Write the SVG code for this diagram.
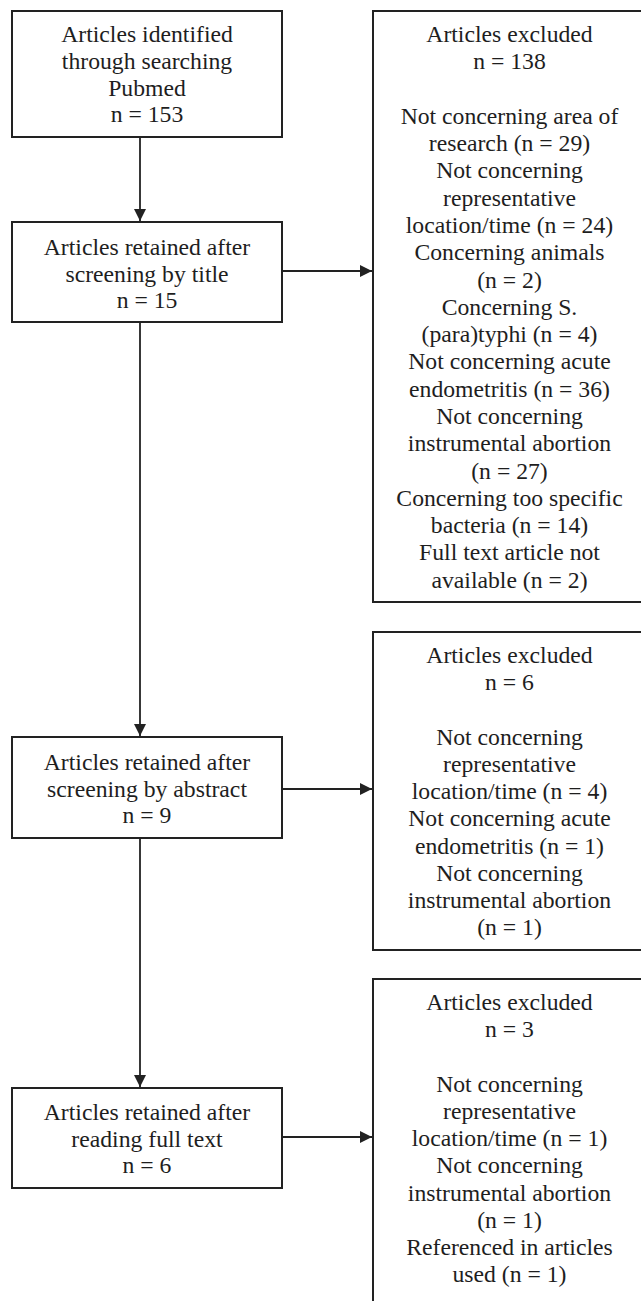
<svg xmlns="http://www.w3.org/2000/svg" width="641" height="1301" viewBox="0 0 641 1301">
<style>
.fcbox{fill:#fff;stroke:#222;stroke-width:2}
.fclbl{font-family:'Liberation Serif',serif !important;font-size:23.7px;fill:#1e1e1e;text-anchor:middle}
.fcarr{stroke:#222;stroke-width:1.8;fill:none;marker-end:url(#ah)}
</style>
<defs>
<marker id="ah" markerUnits="userSpaceOnUse" markerWidth="12" markerHeight="12" refX="12" refY="6" orient="auto">
<path d="M0,0 L12,6 L0,12 z" fill="#222"/>
</marker>
</defs>
<rect width="641" height="1301" fill="#fff"/>
<g id="connectors">
<line class="fcarr" x1="140" y1="137" x2="140" y2="221"/>
<line class="fcarr" x1="140" y1="322" x2="140" y2="736"/>
<line class="fcarr" x1="140" y1="838" x2="140" y2="1087"/>
<line class="fcarr" x1="282" y1="271" x2="372" y2="271"/>
<line class="fcarr" x1="282" y1="789" x2="372" y2="789"/>
<line class="fcarr" x1="282" y1="1137" x2="372" y2="1137"/>
</g>
<g id="n1">
<rect class="fcbox" x="12" y="11" width="270" height="126"/>
<text class="fclbl" font-family="Liberation Serif" x="147" y="42">Articles identified</text>
<text class="fclbl" font-family="Liberation Serif" x="147" y="69">through searching</text>
<text class="fclbl" font-family="Liberation Serif" x="147" y="96">Pubmed</text>
<text class="fclbl" font-family="Liberation Serif" x="147" y="122">n = 153</text>
</g>
<g id="n2">
<rect class="fcbox" x="12" y="222" width="270" height="100"/>
<text class="fclbl" font-family="Liberation Serif" x="147" y="255">Articles retained after</text>
<text class="fclbl" font-family="Liberation Serif" x="147" y="282">screening by title</text>
<text class="fclbl" font-family="Liberation Serif" x="147" y="308">n = 15</text>
</g>
<g id="n3">
<rect class="fcbox" x="12" y="737" width="270" height="101"/>
<text class="fclbl" font-family="Liberation Serif" x="147" y="770">Articles retained after</text>
<text class="fclbl" font-family="Liberation Serif" x="147" y="797">screening by abstract</text>
<text class="fclbl" font-family="Liberation Serif" x="147" y="823">n = 9</text>
</g>
<g id="n4">
<rect class="fcbox" x="12" y="1088" width="270" height="100"/>
<text class="fclbl" font-family="Liberation Serif" x="147" y="1120">Articles retained after</text>
<text class="fclbl" font-family="Liberation Serif" x="147" y="1147">reading full text</text>
<text class="fclbl" font-family="Liberation Serif" x="147" y="1173">n = 6</text>
</g>
<g id="x1">
<rect class="fcbox" x="373" y="11" width="280" height="591"/>
<text class="fclbl" font-family="Liberation Serif" x="509.5" y="42">Articles excluded</text>
<text class="fclbl" font-family="Liberation Serif" x="509.5" y="69">n = 138</text>
<text class="fclbl" font-family="Liberation Serif" x="509.5" y="124">Not concerning area of</text>
<text class="fclbl" font-family="Liberation Serif" x="509.5" y="151">research (n = 29)</text>
<text class="fclbl" font-family="Liberation Serif" x="509.5" y="178">Not concerning</text>
<text class="fclbl" font-family="Liberation Serif" x="509.5" y="206">representative</text>
<text class="fclbl" font-family="Liberation Serif" x="509.5" y="233">location/time (n = 24)</text>
<text class="fclbl" font-family="Liberation Serif" x="509.5" y="260">Concerning animals</text>
<text class="fclbl" font-family="Liberation Serif" x="509.5" y="288">(n = 2)</text>
<text class="fclbl" font-family="Liberation Serif" x="509.5" y="315">Concerning S.</text>
<text class="fclbl" font-family="Liberation Serif" x="509.5" y="342">(para)typhi (n = 4)</text>
<text class="fclbl" font-family="Liberation Serif" x="509.5" y="369">Not concerning acute</text>
<text class="fclbl" font-family="Liberation Serif" x="509.5" y="397">endometritis (n = 36)</text>
<text class="fclbl" font-family="Liberation Serif" x="509.5" y="424">Not concerning</text>
<text class="fclbl" font-family="Liberation Serif" x="509.5" y="451">instrumental abortion</text>
<text class="fclbl" font-family="Liberation Serif" x="509.5" y="479">(n = 27)</text>
<text class="fclbl" font-family="Liberation Serif" x="509.5" y="506">Concerning too specific</text>
<text class="fclbl" font-family="Liberation Serif" x="509.5" y="533">bacteria (n = 14)</text>
<text class="fclbl" font-family="Liberation Serif" x="509.5" y="560">Full text article not</text>
<text class="fclbl" font-family="Liberation Serif" x="509.5" y="588">available (n = 2)</text>
</g>
<g id="x2">
<rect class="fcbox" x="373" y="632" width="280" height="318"/>
<text class="fclbl" font-family="Liberation Serif" x="509.5" y="663">Articles excluded</text>
<text class="fclbl" font-family="Liberation Serif" x="509.5" y="690">n = 6</text>
<text class="fclbl" font-family="Liberation Serif" x="509.5" y="745">Not concerning</text>
<text class="fclbl" font-family="Liberation Serif" x="509.5" y="772">representative</text>
<text class="fclbl" font-family="Liberation Serif" x="509.5" y="799">location/time (n = 4)</text>
<text class="fclbl" font-family="Liberation Serif" x="509.5" y="826">Not concerning acute</text>
<text class="fclbl" font-family="Liberation Serif" x="509.5" y="854">endometritis (n = 1)</text>
<text class="fclbl" font-family="Liberation Serif" x="509.5" y="881">Not concerning</text>
<text class="fclbl" font-family="Liberation Serif" x="509.5" y="908">instrumental abortion</text>
<text class="fclbl" font-family="Liberation Serif" x="509.5" y="935">(n = 1)</text>
</g>
<g id="x3">
<rect class="fcbox" x="373" y="979" width="280" height="340"/>
<text class="fclbl" font-family="Liberation Serif" x="509.5" y="1010">Articles excluded</text>
<text class="fclbl" font-family="Liberation Serif" x="509.5" y="1037">n = 3</text>
<text class="fclbl" font-family="Liberation Serif" x="509.5" y="1092">Not concerning</text>
<text class="fclbl" font-family="Liberation Serif" x="509.5" y="1119">representative</text>
<text class="fclbl" font-family="Liberation Serif" x="509.5" y="1146">location/time (n = 1)</text>
<text class="fclbl" font-family="Liberation Serif" x="509.5" y="1173">Not concerning</text>
<text class="fclbl" font-family="Liberation Serif" x="509.5" y="1201">instrumental abortion</text>
<text class="fclbl" font-family="Liberation Serif" x="509.5" y="1228">(n = 1)</text>
<text class="fclbl" font-family="Liberation Serif" x="509.5" y="1255">Referenced in articles</text>
<text class="fclbl" font-family="Liberation Serif" x="509.5" y="1282">used (n = 1)</text>
</g>
</svg>
